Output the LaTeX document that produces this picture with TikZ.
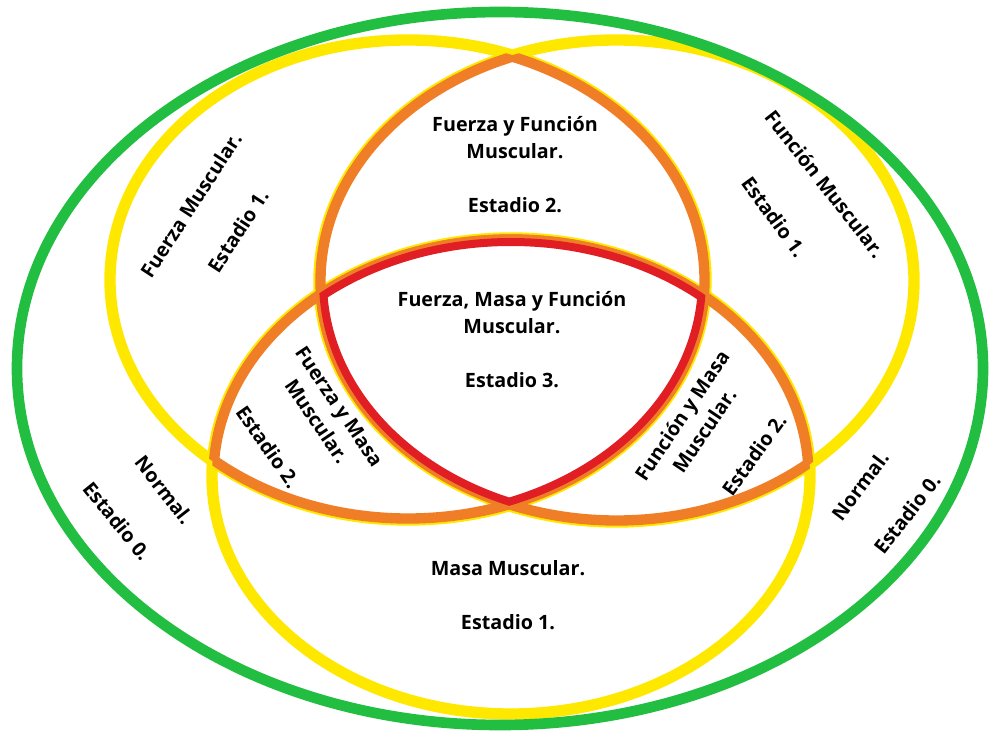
\documentclass[tikz,border=0pt]{standalone}
\usepackage{fontspec}
\setmainfont{Open Sans}
\definecolor{vgreen}{RGB}{34,190,66}
\definecolor{vyellow}{RGB}{255,232,0}
\definecolor{vorange}{RGB}{240,126,38}
\definecolor{vred}{RGB}{224,30,36}
\begin{document}
\begin{tikzpicture}[x=0.75pt,y=-0.75pt,
  lbl/.style={font=\bfseries\fontsize{14.8}{20.25}\selectfont, align=center, inner sep=0pt, text=black},
  yl/.style={draw=vyellow, line width=8.5pt},
  orc/.style={draw=vorange, line width=5.5pt},
  ori/.style={draw=vorange, line width=10pt},
  rd/.style={draw=vred, line width=12pt},
  gr/.style={draw=vgreen, line width=8pt}]
\useasboundingbox (0,0) rectangle (989,734);
\fill[white] (0,0) rectangle (989,734);
\def\ellL{(408,280) ellipse [x radius=298, y radius=240]}
\def\ellR{(616.5,281) ellipse [x radius=297.5, y radius=241]}
\def\ellB{(511,476) ellipse [x radius=299, y radius=238]}
\def\ellG{(500,368.5) ellipse [x radius=483, y radius=356.5]}
% yellow circles
\draw[yl] \ellL;
\draw[yl] \ellR;
\draw[yl] \ellB;
% orange: arcs inside another circle
\begin{scope}\clip \ellR; \draw[orc] \ellL; \end{scope}
\begin{scope}\clip \ellB; \draw[orc] \ellL; \end{scope}
\begin{scope}\clip \ellL; \draw[orc] \ellR; \end{scope}
\begin{scope}\clip \ellB; \draw[orc] \ellR; \end{scope}
\begin{scope}\clip \ellL; \draw[orc] \ellB; \end{scope}
\begin{scope}\clip \ellR; \draw[orc] \ellB; \end{scope}
\begin{scope}\clip \ellL; \clip \ellR; \draw[ori] \ellL \ellR; \end{scope}
\begin{scope}\clip \ellL; \clip \ellB; \draw[ori] \ellL \ellB; \end{scope}
\begin{scope}\clip \ellR; \clip \ellB; \draw[ori] \ellR \ellB; \end{scope}
% red: triple intersection
\begin{scope}\clip \ellL; \clip \ellR; \clip \ellB; \draw[rd] \ellL \ellR \ellB; \end{scope}
% green outer
\draw[gr] \ellG;
% labels
\node[lbl] (fyf) at (515,165) {Fuerza y Función\\Muscular.\\[20.25pt]Estadio 2.};
\node[lbl] (fmf) at (512,340) {Fuerza, Masa y Función\\Muscular.\\[20.25pt]Estadio 3.};
\node[lbl] (mm) at (508,595) {Masa Muscular.\\[20.25pt]Estadio 1.};
\node[lbl, rotate=57] (fm) at (191,205) {Fuerza Muscular.};
\node[lbl, rotate=57] (fme) at (238,231) {Estadio 1.};
\node[lbl, rotate=-52] (fu) at (825,184) {Función Muscular.};
\node[lbl, rotate=-54] (fue) at (774,217) {Estadio 1.};
\node[lbl, rotate=-56] (fym) at (328,414) {Fuerza y Masa\\Muscular.};
\node[lbl, rotate=-55] (fyme) at (268,447) {Estadio 2.};
\node[lbl, rotate=56] (fuym) at (693,423) {Función y Masa\\Muscular.};
\node[lbl, rotate=54] (fuyme) at (754,455) {Estadio 2.};
\node[lbl, rotate=-52] (nl) at (164,490) {Normal.};
\node[lbl, rotate=-51] (nle) at (117,521) {Estadio 0.};
\node[lbl, rotate=53] (nr) at (860,486) {Normal.};
\node[lbl, rotate=52] (nre) at (907,514) {Estadio 0.};
\end{tikzpicture}
\end{document}
